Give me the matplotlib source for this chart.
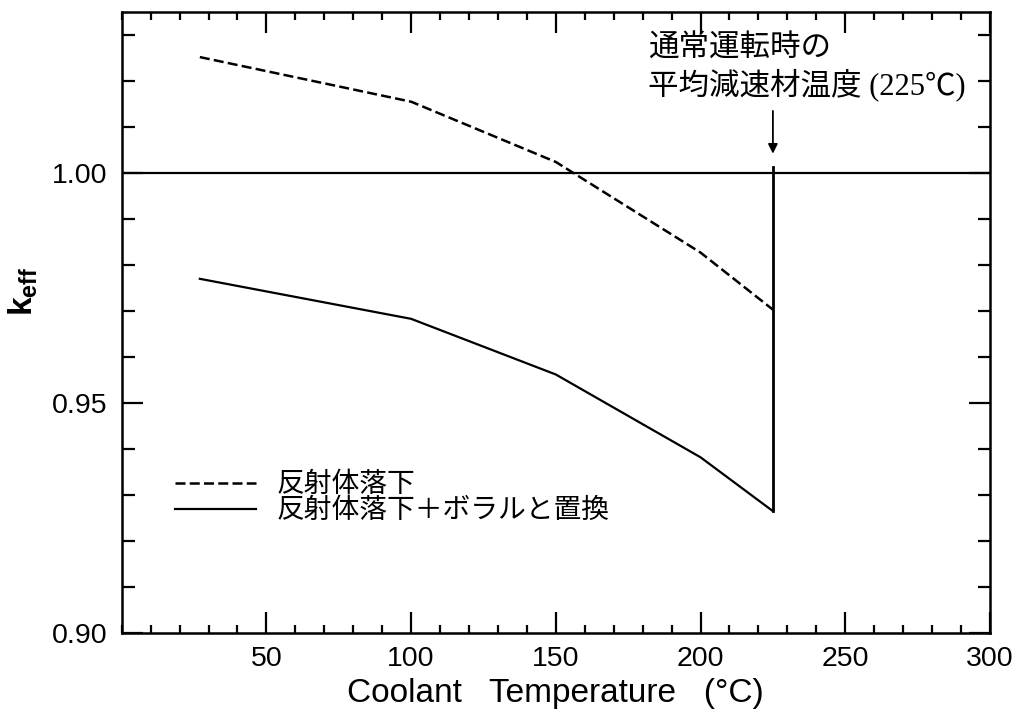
import matplotlib
matplotlib.use("Agg")
import matplotlib.pyplot as plt
from matplotlib.ticker import MultipleLocator

plt.rcParams['font.family'] = ['Liberation Sans', 'Noto Sans CJK JP']
plt.rcParams['mathtext.fontset'] = 'custom'
plt.rcParams['mathtext.rm'] = 'Liberation Sans'
plt.rcParams['mathtext.bf'] = 'Liberation Sans:bold'

# coolant temperature (deg C)
temps = [27, 100, 150, 200, 225]
# k_eff, reflector dropped
keff_drop = [1.0252, 1.0155, 1.0024, 0.9827, 0.9703]
# k_eff, reflector dropped + replaced by boral
keff_boral = [0.9770, 0.9683, 0.9562, 0.9382, 0.9265]

labels = ['反射体落下', '反射体落下＋ボラルと置換']
op_temp = 225
note = '通常運転時の\n平均減速材温度 (225℃)'

fig = plt.figure(figsize=(10.21, 7.14), dpi=100)
ax = fig.add_axes([0.1192, 0.1134, 0.8504, 0.8698])

ax.plot(temps, keff_drop, color='k', lw=1.8, dashes=(4, 1.7), label=labels[0])
ax.plot(temps, keff_boral, color='k', lw=1.6, label=labels[1])
# vertical line at normal operating temperature
ax.plot([op_temp, op_temp], [keff_boral[-1], 1.0012], color='k', lw=2.0)
ax.axhline(1.0, color='k', lw=1.6)

ax.annotate('', xy=(op_temp, 1.0042), xytext=(op_temp, 1.0135),
            arrowprops=dict(arrowstyle='-|>', color='k', lw=1.3,
                            mutation_scale=14, shrinkA=0, shrinkB=0))
ax.text(182, 1.0301, note, fontsize=22, va='top', ha='left',
        family=['Liberation Serif', 'Noto Sans CJK JP'], linespacing=1.2)

ax.set_xlim(0, 300)
ax.set_ylim(0.90, 1.035)
ax.set_xticks([50, 100, 150, 200, 250, 300])
ax.set_yticks([0.90, 0.95, 1.00])
ax.set_yticklabels(['0.90', '0.95', '1.00'])
ax.xaxis.set_minor_locator(MultipleLocator(10))
ax.yaxis.set_minor_locator(MultipleLocator(0.01))
ax.tick_params(which='both', direction='in', top=True, right=True, width=1.6,
               labelsize=20.5)
ax.tick_params(which='major', length=15)
ax.tick_params(axis='x', which='minor', length=5.5)
ax.tick_params(axis='y', which='minor', length=9)
ax.tick_params(axis='x', pad=9)
ax.tick_params(axis='y', pad=10)
for s in ax.spines.values():
    s.set_linewidth(1.8)

ax.set_xlabel('Coolant   Temperature   (°C)', fontsize=24)
ax.xaxis.set_label_coords(0.5, -0.072)
ax.set_ylabel(r'$\mathbf{k}_{\mathbf{eff}}$', fontsize=24)
ax.yaxis.set_label_coords(-0.094, 0.55)

ax.legend(loc='center left', bbox_to_anchor=(0.0614, 0.217), frameon=False,
          fontsize=20, handlelength=2.9, handletextpad=0.75, labelspacing=0.0,
          borderpad=0, borderaxespad=0)

fig.savefig('out.png', dpi=100)
